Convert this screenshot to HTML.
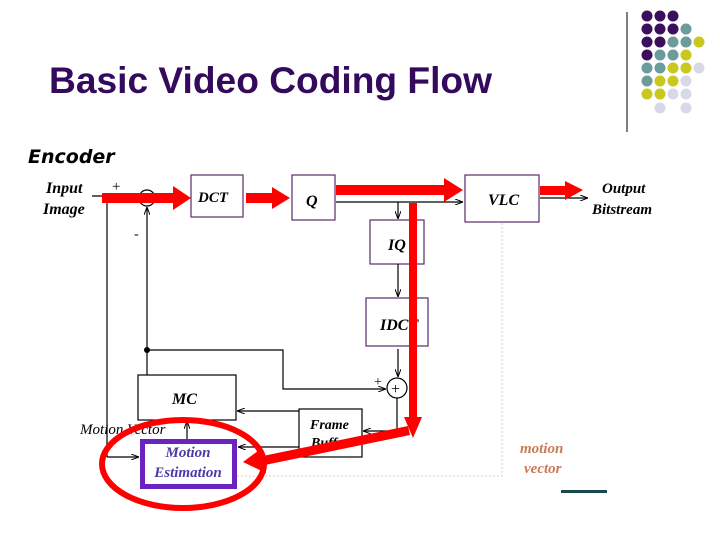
<!DOCTYPE html>
<html><head><meta charset="utf-8"><style>
html,body{margin:0;padding:0;background:#fff;width:720px;height:540px;overflow:hidden}
svg{display:block}
.t{font-family:"Liberation Serif",serif;font-style:italic;font-weight:bold;fill:#000}
</style></head><body>
<svg width="720" height="540" viewBox="0 0 720 540" xmlns="http://www.w3.org/2000/svg">
<defs>
<marker id="a" markerWidth="8" markerHeight="6" refX="8" refY="3" orient="auto" markerUnits="userSpaceOnUse"><path d="M0,0 L8,3 L0,6" fill="none" stroke="#000" stroke-width="1"/></marker>
</defs>
<text x="49" y="93" font-family="Liberation Sans,sans-serif" font-size="37" font-weight="bold" fill="#330a5c" textLength="443" lengthAdjust="spacingAndGlyphs">Basic Video Coding Flow</text>
<line x1="627" y1="12" x2="627" y2="132" stroke="#000" stroke-width="1"/>
<g>
<circle cx="647" cy="16" r="5.5" fill="#3b0f5e"/><circle cx="660" cy="16" r="5.5" fill="#3b0f5e"/><circle cx="673" cy="16" r="5.5" fill="#3b0f5e"/>
<circle cx="647" cy="29" r="5.5" fill="#3b0f5e"/><circle cx="660" cy="29" r="5.5" fill="#3b0f5e"/><circle cx="673" cy="29" r="5.5" fill="#3b0f5e"/><circle cx="686" cy="29" r="5.5" fill="#6b9b9b"/>
<circle cx="647" cy="42" r="5.5" fill="#3b0f5e"/><circle cx="660" cy="42" r="5.5" fill="#3b0f5e"/><circle cx="673" cy="42" r="5.5" fill="#6b9b9b"/><circle cx="686" cy="42" r="5.5" fill="#6b9b9b"/><circle cx="699" cy="42" r="5.5" fill="#c8c820"/>
<circle cx="647" cy="55" r="5.5" fill="#3b0f5e"/><circle cx="660" cy="55" r="5.5" fill="#6b9b9b"/><circle cx="673" cy="55" r="5.5" fill="#6b9b9b"/><circle cx="686" cy="55" r="5.5" fill="#c8c820"/>
<circle cx="647" cy="68" r="5.5" fill="#6b9b9b"/><circle cx="660" cy="68" r="5.5" fill="#6b9b9b"/><circle cx="673" cy="68" r="5.5" fill="#c8c820"/><circle cx="686" cy="68" r="5.5" fill="#c8c820"/><circle cx="699" cy="68" r="5.5" fill="#d8d8e8"/>
<circle cx="647" cy="81" r="5.5" fill="#6b9b9b"/><circle cx="660" cy="81" r="5.5" fill="#c8c820"/><circle cx="673" cy="81" r="5.5" fill="#c8c820"/><circle cx="686" cy="81" r="5.5" fill="#d8d8e8"/>
<circle cx="647" cy="94" r="5.5" fill="#c8c820"/><circle cx="660" cy="94" r="5.5" fill="#c8c820"/><circle cx="673" cy="94" r="5.5" fill="#d8d8e8"/><circle cx="686" cy="94" r="5.5" fill="#d8d8e8"/>
<circle cx="660" cy="108" r="5.5" fill="#d8d8e8"/><circle cx="686" cy="108" r="5.5" fill="#d8d8e8"/>
</g>
<text x="28" y="163" font-family="DejaVu Sans,sans-serif" font-style="italic" font-weight="bold" font-size="19" fill="#000">Encoder</text>
<text class="t" x="46" y="193" font-size="16">Input</text>
<text class="t" x="43" y="214" font-size="16">Image</text>
<text x="112" y="191" font-size="15" font-family="Liberation Serif,serif">+</text>
<text x="134" y="238" font-size="14" font-family="Liberation Serif,serif">-</text>
<g fill="#fff" stroke="#5a2a6a" stroke-width="1.2">
<rect x="191" y="175" width="52" height="42"/>
<rect x="292" y="175" width="43" height="45"/>
<rect x="465" y="175" width="74" height="47"/>
<rect x="370" y="220" width="54" height="44"/>
<rect x="366" y="298" width="62" height="48"/>
</g>
<g fill="#fff" stroke="#000" stroke-width="1.2">
<rect x="138" y="375" width="98" height="45"/>
<rect x="299" y="409" width="63" height="48"/>
</g>
<text class="t" x="198" y="202" font-size="15">DCT</text>
<text class="t" x="306" y="206" font-size="16">Q</text>
<text class="t" x="488" y="205" font-size="16">VLC</text>
<text class="t" x="388" y="250" font-size="16">IQ</text>
<text class="t" x="380" y="330" font-size="16">IDCT</text>
<text class="t" x="172" y="404" font-size="16">MC</text>
<text class="t" x="310" y="429" font-size="14">Frame</text>
<text class="t" x="311" y="447" font-size="14">Buffer</text>
<text class="t" x="602" y="193" font-size="15">Output</text>
<text class="t" x="592" y="214" font-size="15">Bitstream</text>
<text x="80" y="434" font-size="15" font-style="italic" font-family="Liberation Serif,serif">Motion Vector</text>
<text x="520" y="453" font-size="15" font-style="italic" font-weight="bold" font-family="Liberation Serif,serif" fill="#c87a5a">motion</text>
<text x="524" y="473" font-size="15" font-style="italic" font-weight="bold" font-family="Liberation Serif,serif" fill="#c87a5a">vector</text>
<g stroke="#000" stroke-width="1.2" fill="none">
<circle cx="147" cy="198" r="8"/>
<circle cx="397" cy="388" r="10"/>
<line x1="92" y1="196" x2="138" y2="196" marker-end="url(#a)"/>
<line x1="107" y1="198" x2="107" y2="457"/>
<line x1="107" y1="457" x2="139" y2="457" marker-end="url(#a)"/>
<line x1="147" y1="375" x2="147" y2="207" marker-end="url(#a)"/>
<polyline points="147,350 283,350 283,389 386,389" marker-end="url(#a)"/>
<line x1="336" y1="202" x2="463" y2="202" marker-end="url(#a)"/>
<line x1="398" y1="202" x2="398" y2="219" marker-end="url(#a)"/>
<line x1="398" y1="264" x2="398" y2="297" marker-end="url(#a)"/>
<line x1="398" y1="349" x2="398" y2="377" marker-end="url(#a)"/>
<polyline points="397,398 397,431 363,431" marker-end="url(#a)"/>
<line x1="299" y1="411" x2="237" y2="411" marker-end="url(#a)"/>
<line x1="299" y1="447" x2="238" y2="447" marker-end="url(#a)"/>
<line x1="187" y1="439" x2="187" y2="421" marker-end="url(#a)"/>
<line x1="540" y1="198" x2="588" y2="198" marker-end="url(#a)"/>
</g>
<circle cx="147" cy="350" r="3" fill="#000"/>
<text x="142" y="203" font-size="13" font-family="Liberation Serif,serif">+</text>
<text x="391" y="394" font-size="16" font-family="Liberation Serif,serif">+</text>
<text x="374" y="386" font-size="14" font-family="Liberation Serif,serif">+</text>
<polyline points="237,476 502,476 502,223" fill="none" stroke="#e8c8b8" stroke-width="1" stroke-dasharray="2,2"/>
<rect x="142.5" y="441.5" width="92" height="45" fill="#fff" stroke="#6a22c0" stroke-width="5"/>
<text x="188" y="457" text-anchor="middle" font-family="Liberation Serif,serif" font-style="italic" font-weight="bold" font-size="15" fill="#4a3aa8">Motion</text>
<text x="188" y="477" text-anchor="middle" font-family="Liberation Serif,serif" font-style="italic" font-weight="bold" font-size="15" fill="#4a3aa8">Estimation</text>
<g fill="#f00" stroke="none">
<rect x="102" y="193" width="73" height="10"/><polygon points="173,186 191,198 173,210"/>
<rect x="246" y="193" width="28" height="10"/><polygon points="272,187 290,198 272,209"/>
<rect x="336" y="185" width="110" height="10"/><polygon points="444,178 463,190 444,202"/>
<rect x="540" y="186" width="28" height="9"/><polygon points="565,181 583,190 565,200"/>
<rect x="409" y="203" width="8" height="216"/><polygon points="404,417 422,417 413,438"/>
<polygon points="408,426 410,435 260,466 258,457"/><polygon points="243,462 262,448 266,473"/>
</g>
<ellipse cx="183" cy="464" rx="81" ry="44" fill="none" stroke="#f00" stroke-width="6"/>
<rect x="561" y="490" width="46" height="3" fill="#1a4a50"/>
</svg>
</body></html>
